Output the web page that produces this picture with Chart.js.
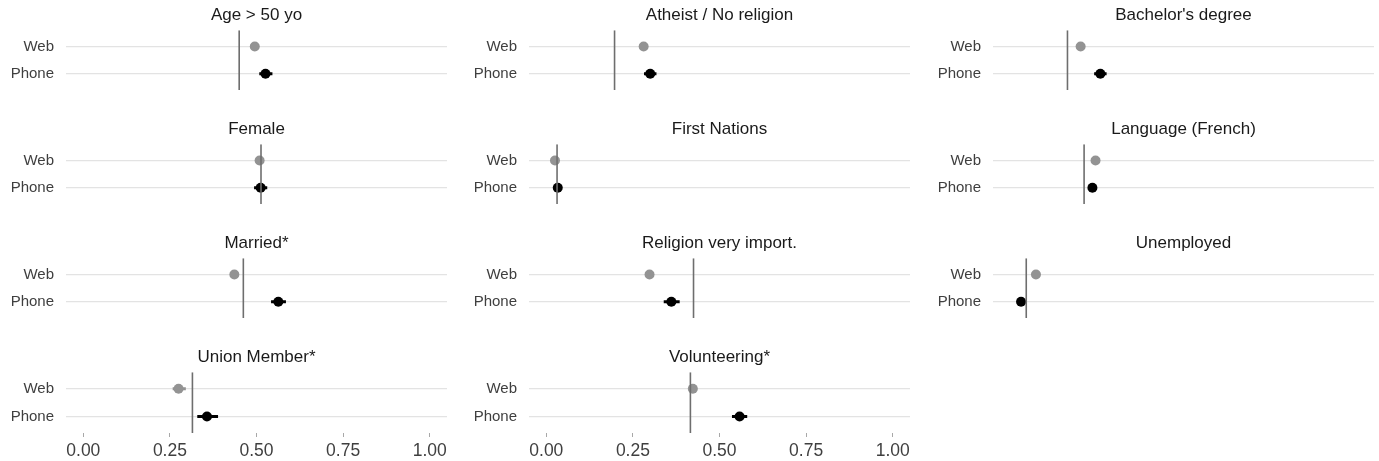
<!DOCTYPE html>
<html>
<head>
<meta charset="utf-8">
<script src="https://cdn.jsdelivr.net/npm/chart.js@4/dist/chart.umd.min.js"></script>
<style>
  html, body { margin: 0; padding: 0; background: #ffffff; }
  #grid { position: relative; width: 1379px; height: 461px; overflow: hidden; background: #ffffff; }
  #grid canvas { position: absolute; }
</style>
</head>
<body>
<div id="grid"></div>
<script>
// Facet titles, in reading order (3 panels per row)
const panels = ['Age > 50 yo', 'Atheist / No religion', "Bachelor's degree",
                'Female', 'First Nations', 'Language (French)',
                'Married*', 'Religion very import.', 'Unemployed',
                'Union Member*', 'Volunteering*'];
const modes = ['Web', 'Phone'];

// Share of respondents by survey mode, with confidence bounds
const webShare  = [0.495, 0.281, 0.203, 0.509, 0.025, 0.246, 0.436, 0.298, 0.074, 0.275, 0.423];
const webLow    = [0.483, 0.270, 0.193, 0.497, 0.019, 0.236, 0.424, 0.287, 0.068, 0.258, 0.411];
const webHigh   = [0.507, 0.292, 0.213, 0.521, 0.031, 0.256, 0.448, 0.309, 0.080, 0.296, 0.435];
const phoneShare = [0.526, 0.300, 0.260, 0.512, 0.033, 0.237, 0.563, 0.361, 0.031, 0.357, 0.558];
const phoneLow   = [0.508, 0.282, 0.242, 0.493, 0.026, 0.226, 0.542, 0.339, 0.024, 0.329, 0.536];
const phoneHigh  = [0.546, 0.318, 0.278, 0.531, 0.040, 0.248, 0.585, 0.385, 0.038, 0.389, 0.580];

// Population benchmark for each characteristic
const benchmark = [0.450, 0.197, 0.165, 0.513, 0.031, 0.213, 0.462, 0.425, 0.046, 0.315, 0.416];

const xTicks = [0, 0.25, 0.5, 0.75, 1];

const FONT = "'Liberation Sans', Arial, Helvetica, sans-serif";
const WEB_COLOR = '#939393';
const PHONE_COLOR = '#000000';

const COLS = 3;
const colLeft = [0, 463, 927];
const rowTop = [0, 114, 228, 342];
const nRows = Math.ceil(panels.length / COLS);

function hasAxisLabels(i) {
  // tick labels only under the lowest row of the grid
  return Math.floor(i / COLS) === nRows - 1;
}

const grid = document.getElementById('grid');

panels.forEach((title, i) => {
  const r = Math.floor(i / COLS), c = i % COLS;
  const withAxis = hasAxisLabels(i);
  const canvas = document.createElement('canvas');
  const w = 452, h = withAxis ? 124 : 111;
  canvas.width = w; canvas.height = h;
  canvas.style.left = colLeft[c] + 'px';
  canvas.style.top = rowTop[r] + 'px';
  canvas.style.width = w + 'px';
  canvas.style.height = h + 'px';
  grid.appendChild(canvas);

  const line = (data, color, width, order) => ({
    data, showLine: true, borderColor: color, borderWidth: width,
    pointRadius: 0, pointHoverRadius: 0, order, borderCapStyle: 'butt'
  });
  const dot = (data, color) => ({
    data, showLine: false, backgroundColor: color, borderWidth: 0,
    pointRadius: 5, pointHoverRadius: 5, order: 1
  });

  new Chart(canvas, {
    type: 'scatter',
    data: {
      datasets: [
        line([{x: benchmark[i], y: -0.6}, {x: benchmark[i], y: 1.6}], '#6e6e6e', 1.6, 0),
        line([{x: webLow[i], y: 0}, {x: webHigh[i], y: 0}], WEB_COLOR, 3, 2),
        line([{x: phoneLow[i], y: 1}, {x: phoneHigh[i], y: 1}], PHONE_COLOR, 3, 2),
        dot([{x: webShare[i], y: 0}], WEB_COLOR),
        dot([{x: phoneShare[i], y: 1}], PHONE_COLOR)
      ]
    },
    options: {
      responsive: false,
      animation: false,
      events: [],
      layout: { padding: 0 },
      plugins: {
        legend: { display: false },
        tooltip: { enabled: false },
        title: {
          display: true,
          text: title,
          fullSize: false,
          color: '#1a1a1a',
          font: { family: FONT, size: 17, weight: 'normal', lineHeight: 1.2 },
          padding: { top: 5.5, bottom: 4.3 }
        }
      },
      scales: {
        x: {
          type: 'linear',
          min: -0.05, max: 1.05,
          display: withAxis,
          afterBuildTicks: (s) => { s.ticks = xTicks.map(v => ({ value: v })); },
          border: { display: false },
          grid: { drawOnChartArea: false, drawTicks: true, tickLength: 4, color: '#a8a8a8', lineWidth: 1 },
          ticks: {
            padding: 4,
            color: '#3f3f3f',
            font: { family: FONT, size: 17.5, lineHeight: 1.2 },
            callback: (v) => Number(v).toFixed(2),
            maxRotation: 0, autoSkip: false
          }
        },
        y: {
          type: 'linear',
          reverse: true,
          min: -0.6, max: 1.6,
          afterBuildTicks: (s) => { s.ticks = modes.map((m, k) => ({ value: k })); },
          afterFit: (s) => { s.width = 66; },
          border: { display: false },
          grid: { drawTicks: false, color: '#e3e3e3', lineWidth: 1.2 },
          ticks: {
            padding: 12,
            color: '#3f3f3f',
            font: { family: FONT, size: 15, lineHeight: 1.2 },
            callback: (v) => modes[v] !== undefined ? modes[v] : ''
          }
        }
      }
    }
  });
});
</script>
</body>
</html>
